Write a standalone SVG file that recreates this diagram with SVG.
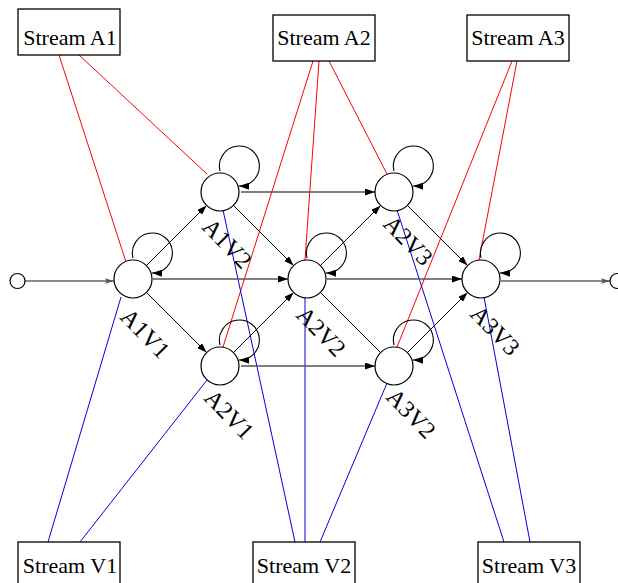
<svg xmlns="http://www.w3.org/2000/svg" width="618" height="583" viewBox="0 0 618 583">
  <style>
    text { font-family: "Liberation Serif", "Times New Roman", serif; font-size: 22px; fill: #000; }
    .box rect { fill: #fff; stroke: #000; stroke-width: 1.3; }
    .box text { text-anchor: middle; }
    .state circle { fill: #fff; stroke: #000; stroke-width: 1.2; }
    .state text { font-size: 24px; }
    .red { stroke: #ff0000; stroke-width: 1; fill: none; }
    .blue { stroke: #0000dd; stroke-width: 1; fill: none; }
    .edge { stroke: #000; stroke-width: 1; fill: none; marker-end: url(#ah); }
    .plain { stroke: #000; stroke-width: 1; fill: none; }
    .hor { stroke: #555; stroke-width: 1.7; fill: none; marker-end: url(#ah); }
    .io { stroke: #666; stroke-width: 1.5; fill: none; marker-end: url(#ahg); }
    .loop { stroke: #000; stroke-width: 1.1; fill: none; marker-end: url(#ah); }
  </style>
  <defs>
    <marker id="ah" viewBox="0 0 10 7" refX="10" refY="3.5" markerWidth="10" markerHeight="7" markerUnits="userSpaceOnUse" orient="auto">
      <path d="M0,0 L10,3.5 L0,7 z" fill="#000"/>
    </marker>
    <marker id="ahg" viewBox="0 0 10 6" refX="10" refY="3" markerWidth="9" markerHeight="6" markerUnits="userSpaceOnUse" orient="auto">
      <path d="M0,0 L10,3 L0,6 L2,3 z" fill="#555"/>
    </marker>
  </defs>

  <!-- connectors -->
  <g id="connectors">
    <!-- audio stream links -->
    <line class="red" x1="59" y1="55" x2="126" y2="262"/>
    <line class="red" x1="79" y1="55" x2="207" y2="174"/>
    <line class="red" x1="313" y1="61" x2="223" y2="347"/>
    <line class="red" x1="319" y1="61" x2="305" y2="260"/>
    <line class="red" x1="329" y1="61" x2="387" y2="174"/>
    <line class="red" x1="512" y1="61" x2="397" y2="347"/>
    <line class="red" x1="517" y1="61" x2="479" y2="260"/>
    <!-- video stream links -->
    <line class="blue" x1="48" y1="542" x2="121" y2="297"/>
    <line class="blue" x1="80" y1="542" x2="207" y2="380"/>
    <line class="blue" x1="295" y1="542" x2="223" y2="210"/>
    <line class="blue" x1="305" y1="542" x2="305" y2="298"/>
    <line class="blue" x1="320" y1="542" x2="387" y2="383"/>
    <line class="blue" x1="504" y1="542" x2="397" y2="210"/>
    <line class="blue" x1="530" y1="542" x2="484" y2="297"/>
    <!-- entry and exit -->
    <line class="io" x1="25" y1="281" x2="114" y2="281"/>
    <line class="io" x1="501" y1="281" x2="610" y2="281"/>
    <!-- horizontal transitions -->
    <line class="hor" x1="153" y1="279" x2="288" y2="279"/>
    <line class="hor" x1="241" y1="192" x2="375" y2="192"/>
    <line class="hor" x1="241" y1="366" x2="375" y2="366"/>
    <line class="hor" x1="327" y1="279" x2="462" y2="279"/>
    <!-- diagonal transitions -->
    <line class="edge" x1="146.4" y1="265.6" x2="206.6" y2="205.4"/>
    <line class="edge" x1="146.4" y1="292.4" x2="206.6" y2="352.6"/>
    <line class="edge" x1="233.4" y1="205.4" x2="293.6" y2="265.6"/>
    <line class="edge" x1="233.4" y1="352.6" x2="293.6" y2="292.4"/>
    <line class="edge" x1="320.4" y1="265.6" x2="380.6" y2="205.4"/>
    <line class="plain" x1="320.4" y1="292.4" x2="380.6" y2="352.6"/>
    <line class="edge" x1="407.4" y1="205.4" x2="467.6" y2="265.6"/>
    <line class="edge" x1="407.4" y1="352.6" x2="467.6" y2="292.4"/>
    <!-- self loops -->
    <path class="loop" d="M133,258 A20 20 0 1 1 152,273"/>
    <path class="loop" d="M220,171 A20 20 0 1 1 239,186"/>
    <path class="loop" d="M220,345 A20 20 0 1 1 239,360"/>
    <path class="loop" d="M307,258 A20 20 0 1 1 326,273"/>
    <path class="loop" d="M394,171 A20 20 0 1 1 413,186"/>
    <path class="loop" d="M394,345 A20 20 0 1 1 413,360"/>
    <path class="loop" d="M481,258 A20 20 0 1 1 500,273"/>
  </g>

  <!-- stream boxes -->
  <g id="streamA1" class="box"><rect x="18" y="9" width="102" height="46"/><text x="70" y="45">Stream A1</text></g>
  <g id="streamA2" class="box"><rect x="273" y="15" width="102" height="46"/><text x="324" y="45">Stream A2</text></g>
  <g id="streamA3" class="box"><rect x="467" y="15" width="102" height="46"/><text x="518" y="45">Stream A3</text></g>
  <g id="streamV1" class="box"><rect x="18" y="542" width="102" height="46"/><text x="70" y="573">Stream V1</text></g>
  <g id="streamV2" class="box"><rect x="253" y="542" width="102" height="46"/><text x="304" y="573">Stream V2</text></g>
  <g id="streamV3" class="box"><rect x="478" y="542" width="102" height="46"/><text x="529" y="573">Stream V3</text></g>

  <!-- entry / exit points -->
  <g id="start" class="state"><circle cx="17.5" cy="281" r="7.5"/></g>
  <g id="end" class="state"><circle cx="617.5" cy="281" r="7.5"/></g>

  <!-- joint states -->
  <g id="A1V1" class="state"><circle cx="133" cy="279" r="19"/><text x="119" y="318" transform="rotate(46 119 318)">A1V1</text></g>
  <g id="A1V2" class="state"><circle cx="220" cy="192" r="19"/><text x="201" y="228" transform="rotate(46 201 228)">A1V2</text></g>
  <g id="A2V1" class="state"><circle cx="220" cy="366" r="19"/><text x="203" y="399" transform="rotate(46 203 399)">A2V1</text></g>
  <g id="A2V2" class="state"><circle cx="307" cy="279" r="19"/><text x="295" y="316" transform="rotate(46 295 316)">A2V2</text></g>
  <g id="A2V3" class="state"><circle cx="394" cy="192" r="19"/><text x="382" y="225" transform="rotate(46 382 225)">A2V3</text></g>
  <g id="A3V2" class="state"><circle cx="394" cy="366" r="19"/><text x="385" y="398" transform="rotate(46 385 398)">A3V2</text></g>
  <g id="A3V3" class="state"><circle cx="481" cy="279" r="19"/><text x="469" y="315" transform="rotate(46 469 315)">A3V3</text></g>
</svg>
